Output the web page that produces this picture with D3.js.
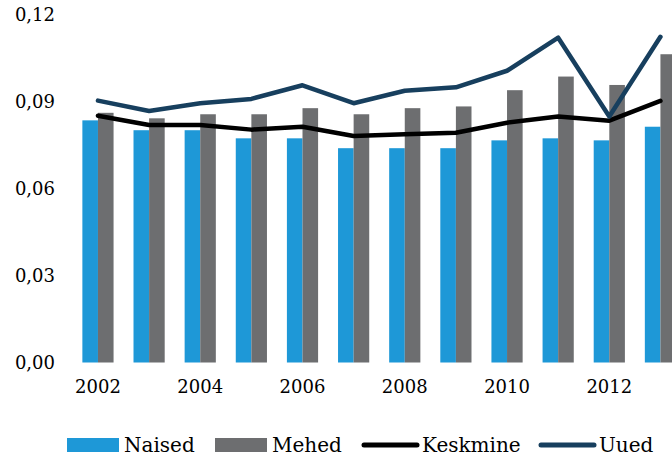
<!DOCTYPE html>
<html><head><meta charset="utf-8">
<script src="https://cdn.jsdelivr.net/npm/d3@7"></script>
<style>html,body{margin:0;padding:0;background:#fff;overflow:hidden}svg{display:block}</style>
</head><body>
<svg id="chart" width="672" height="458"></svg>
<script>
const years = ["2002","2003","2004","2005","2006","2007","2008","2009","2010","2011","2012","2013"];
const yearLabels = ["2002","2004","2006","2008","2010","2012"];
const naised = [0.0835,0.0801,0.0801,0.0773,0.0773,0.0739,0.0739,0.0739,0.0766,0.0773,0.0766,0.0813];
const mehed = [0.0861,0.0842,0.0856,0.0856,0.0877,0.0856,0.0877,0.0883,0.0939,0.0986,0.0957,0.1063];
const keskmine = [0.0851,0.0819,0.0819,0.0803,0.0813,0.0781,0.0787,0.0792,0.0827,0.0848,0.0834,0.0902];
const uued = [0.0903,0.0867,0.0894,0.0909,0.0956,0.0894,0.0937,0.0949,0.1006,0.1120,0.0848,0.1123];
const yTicks = [0, 0.03, 0.06, 0.09, 0.12];
const seriesNames = ["Naised","Mehed","Keskmine","Uued"];
const colors = {Naised:"#1e98d7", Mehed:"#6d6e70", Keskmine:"#000000", Uued:"#173f5e"};

const svg = d3.select("#chart");
const font = "'DejaVu Serif', Georgia, serif";

const x = d3.scaleBand().domain(years).range([72.4, 686]).paddingInner(0.39).paddingOuter(0.195);
const y = d3.scaleLinear().domain([0, 0.12]).range([362.5, 14.5]);
const fmt = v => d3.format(".2f")(v).replace(".", ",");

// y axis labels
const yAxis = d3.axisLeft(y).tickValues(yTicks).tickFormat(fmt).tickSize(0).tickPadding(0);
const gy = svg.append("g").attr("transform","translate(55,0)").call(yAxis);
gy.select(".domain").remove();
gy.selectAll("text").attr("font-family", font).attr("font-size", 18).attr("fill","#000");

// x axis labels
const xAxis = d3.axisBottom(x).tickValues(yearLabels).tickSize(0).tickPadding(0);
const gx = svg.append("g").attr("transform","translate(0,380)").call(xAxis);
gx.select(".domain").remove();
gx.selectAll("text").attr("font-family", font).attr("font-size", 18).attr("fill","#000");

const sub = d3.scaleBand().domain(["Naised","Mehed"]).range([0, x.bandwidth()]);
const barData = years.map((yr,i)=>({yr, Naised:naised[i], Mehed:mehed[i]}));
const groups = svg.append("g").selectAll("g").data(barData).join("g")
  .attr("transform", d=>`translate(${x(d.yr)},0)`);
groups.selectAll("rect").data(d=>["Naised","Mehed"].map(k=>({k, v:d[k]}))).join("rect")
  .attr("x", d=>sub(d.k)).attr("width", sub.bandwidth())
  .attr("y", d=>y(d.v)).attr("height", d=>y(0)-y(d.v))
  .attr("fill", d=>colors[d.k]);

const line = d3.line().x((d,i)=>x(years[i]) + x.bandwidth()/2).y(d=>y(d));
svg.append("path").datum(keskmine).attr("d", line).attr("fill","none")
  .attr("stroke", colors.Keskmine).attr("stroke-width", 4.5).attr("stroke-linejoin","round").attr("stroke-linecap","round");
svg.append("path").datum(uued).attr("d", line).attr("fill","none")
  .attr("stroke", colors.Uued).attr("stroke-width", 4.5).attr("stroke-linejoin","round").attr("stroke-linecap","round");

// legend
const legendX = [67, 215, 362, 539];
const lg = svg.append("g");
seriesNames.forEach((name,i)=>{
  const g = lg.append("g").attr("transform",`translate(${legendX[i]},445)`);
  if (i < 2) {
    g.append("rect").attr("x",0).attr("y",-7).attr("width",52).attr("height",14).attr("fill",colors[name]);
  } else {
    g.append("line").attr("x1",2).attr("x2",55).attr("y1",0).attr("y2",0)
      .attr("stroke",colors[name]).attr("stroke-width",5).attr("stroke-linecap","round");
  }
  g.append("text").attr("x", i<2 ? 57 : 60).attr("y", 7).attr("font-family", font)
    .attr("font-size", 20).attr("fill","#000").text(name);
});
</script>
</body></html>
